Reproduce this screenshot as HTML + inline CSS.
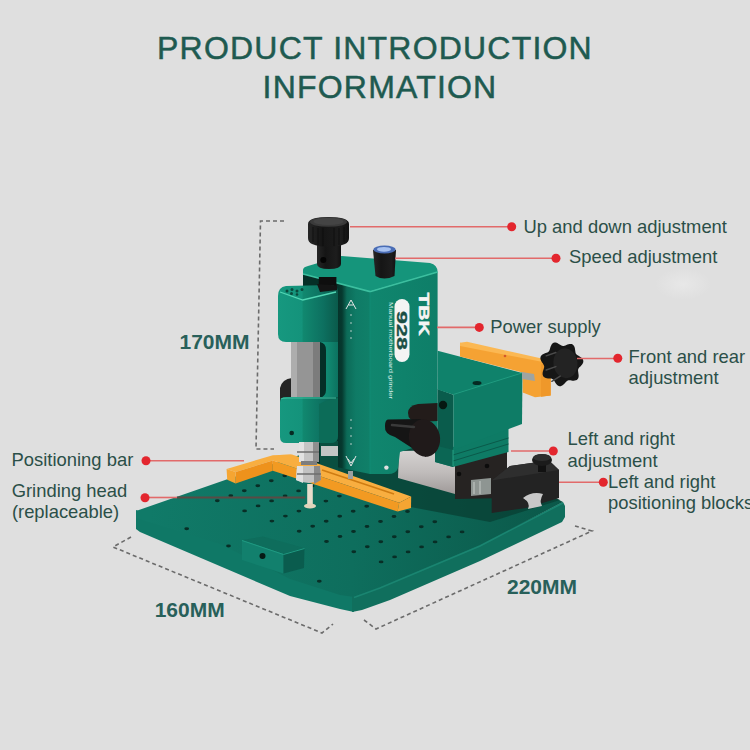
<!DOCTYPE html>
<html><head><meta charset="utf-8"><style>
html,body{margin:0;padding:0;background:#dfdfdf;width:750px;height:750px;overflow:hidden}
svg{display:block}
.t{font-family:"Liberation Sans",sans-serif}
</style></head><body>
<svg width="750" height="750" viewBox="0 0 750 750">
<defs>
  <linearGradient id="gBaseTop" gradientUnits="userSpaceOnUse" x1="150" y1="500" x2="560" y2="520">
    <stop offset="0" stop-color="#107a68"/><stop offset="0.5" stop-color="#0e6e5d"/><stop offset="1" stop-color="#0b5849"/>
  </linearGradient>
  <radialGradient id="glow"><stop offset="0" stop-color="#f2f2f2" stop-opacity="0.45"/><stop offset="1" stop-color="#f2f2f2" stop-opacity="0"/></radialGradient>
  <linearGradient id="gSp" gradientUnits="userSpaceOnUse" x1="278" y1="0" x2="338" y2="0"><stop offset="0" stop-color="#16987f"/><stop offset="0.4" stop-color="#14937b"/><stop offset="0.42" stop-color="#11886f"/><stop offset="0.75" stop-color="#0d7060"/><stop offset="1" stop-color="#0a5a4b"/></linearGradient>
  <linearGradient id="gSpR" gradientUnits="userSpaceOnUse" x1="320" y1="0" x2="338" y2="0"><stop offset="0" stop-color="#13947b"/><stop offset="0.5" stop-color="#10866f"/><stop offset="1" stop-color="#0c7260"/></linearGradient>
  <linearGradient id="gColL" gradientUnits="userSpaceOnUse" x1="335" y1="0" x2="370" y2="0"><stop offset="0" stop-color="#052f27"/><stop offset="0.2" stop-color="#06392f"/><stop offset="0.34" stop-color="#0c6b58"/><stop offset="0.6" stop-color="#0f7b66"/><stop offset="1" stop-color="#108069"/></linearGradient>
  <linearGradient id="gColR" gradientUnits="userSpaceOnUse" x1="370" y1="0" x2="438" y2="0"><stop offset="0" stop-color="#10866e"/><stop offset="1" stop-color="#0e7e68"/></linearGradient>
  <linearGradient id="gKnob" x1="0" y1="0" x2="1" y2="0"><stop offset="0" stop-color="#262626"/><stop offset="0.35" stop-color="#151515"/><stop offset="0.8" stop-color="#1d1d1d"/><stop offset="1" stop-color="#111"/></linearGradient>
  <linearGradient id="gSilver" gradientUnits="userSpaceOnUse" x1="0" y1="452" x2="0" y2="494"><stop offset="0" stop-color="#d4d1d0"/><stop offset="0.5" stop-color="#bfbbba"/><stop offset="1" stop-color="#9f9a99"/></linearGradient>
</defs>
<rect width="750" height="750" fill="#dfdfdf"/>
<ellipse cx="683" cy="284" rx="28" ry="16" fill="url(#glow)"/>

<!-- title -->
<g class="t" fill="#1e5a50" stroke="#1e5a50" stroke-width="0.5" font-size="32" letter-spacing="1.2">
  <text x="375" y="59" text-anchor="middle">PRODUCT INTRODUCTION</text>
  <text x="380" y="98" text-anchor="middle">INFORMATION</text>
</g>

<!-- base plate -->
<g id="base">
  <!-- front-left face -->
  <polygon points="136,510 220,540 290,574 340,592 354,594 354,612 340,609 290,596 140,532 136,529" fill="#0f7866"/>
  <!-- front-right face -->
  <polygon points="352,594 370,590 380,586 480,544 563,502 565,506 565,517 562,522 480,561 390,600 362,610 352,612" fill="#106f5d"/>
  <!-- top surface -->
  <polygon points="136,511 228,479 300,455 420,440 540,490 563,502 480,545 380,587 354,597 340,595 290,579 220,544 136,518" fill="url(#gBaseTop)"/>
  <path d="M354,597.5 L380,588 L480,546 L563,503" fill="none" stroke="#1a8571" stroke-width="1.5"/>
  <path d="M214.9,500.7a2.4,1.45 0 1,0 4.8,0a2.4,1.45 0 1,0 -4.8,0M242.2,510.9a2.4,1.45 0 1,0 4.8,0a2.4,1.45 0 1,0 -4.8,0M269.5,521.1a2.4,1.45 0 1,0 4.8,0a2.4,1.45 0 1,0 -4.8,0M296.8,531.3a2.4,1.45 0 1,0 4.8,0a2.4,1.45 0 1,0 -4.8,0M324.1,541.5a2.4,1.45 0 1,0 4.8,0a2.4,1.45 0 1,0 -4.8,0M351.4,551.7a2.4,1.45 0 1,0 4.8,0a2.4,1.45 0 1,0 -4.8,0M378.7,561.9a2.4,1.45 0 1,0 4.8,0a2.4,1.45 0 1,0 -4.8,0M228.4,495.7a2.4,1.45 0 1,0 4.8,0a2.4,1.45 0 1,0 -4.8,0M255.7,505.9a2.4,1.45 0 1,0 4.8,0a2.4,1.45 0 1,0 -4.8,0M283.0,516.1a2.4,1.45 0 1,0 4.8,0a2.4,1.45 0 1,0 -4.8,0M310.3,526.3a2.4,1.45 0 1,0 4.8,0a2.4,1.45 0 1,0 -4.8,0M337.6,536.5a2.4,1.45 0 1,0 4.8,0a2.4,1.45 0 1,0 -4.8,0M364.9,546.7a2.4,1.45 0 1,0 4.8,0a2.4,1.45 0 1,0 -4.8,0M392.2,556.9a2.4,1.45 0 1,0 4.8,0a2.4,1.45 0 1,0 -4.8,0M241.9,490.7a2.4,1.45 0 1,0 4.8,0a2.4,1.45 0 1,0 -4.8,0M269.2,500.9a2.4,1.45 0 1,0 4.8,0a2.4,1.45 0 1,0 -4.8,0M296.5,511.1a2.4,1.45 0 1,0 4.8,0a2.4,1.45 0 1,0 -4.8,0M323.8,521.3a2.4,1.45 0 1,0 4.8,0a2.4,1.45 0 1,0 -4.8,0M351.1,531.5a2.4,1.45 0 1,0 4.8,0a2.4,1.45 0 1,0 -4.8,0M378.4,541.7a2.4,1.45 0 1,0 4.8,0a2.4,1.45 0 1,0 -4.8,0M405.7,551.9a2.4,1.45 0 1,0 4.8,0a2.4,1.45 0 1,0 -4.8,0M255.4,485.7a2.4,1.45 0 1,0 4.8,0a2.4,1.45 0 1,0 -4.8,0M282.7,495.9a2.4,1.45 0 1,0 4.8,0a2.4,1.45 0 1,0 -4.8,0M310.0,506.1a2.4,1.45 0 1,0 4.8,0a2.4,1.45 0 1,0 -4.8,0M337.3,516.3a2.4,1.45 0 1,0 4.8,0a2.4,1.45 0 1,0 -4.8,0M364.6,526.5a2.4,1.45 0 1,0 4.8,0a2.4,1.45 0 1,0 -4.8,0M391.9,536.7a2.4,1.45 0 1,0 4.8,0a2.4,1.45 0 1,0 -4.8,0M419.2,546.9a2.4,1.45 0 1,0 4.8,0a2.4,1.45 0 1,0 -4.8,0M268.9,480.7a2.4,1.45 0 1,0 4.8,0a2.4,1.45 0 1,0 -4.8,0M296.2,490.9a2.4,1.45 0 1,0 4.8,0a2.4,1.45 0 1,0 -4.8,0M323.5,501.1a2.4,1.45 0 1,0 4.8,0a2.4,1.45 0 1,0 -4.8,0M350.8,511.3a2.4,1.45 0 1,0 4.8,0a2.4,1.45 0 1,0 -4.8,0M378.1,521.5a2.4,1.45 0 1,0 4.8,0a2.4,1.45 0 1,0 -4.8,0M405.4,531.7a2.4,1.45 0 1,0 4.8,0a2.4,1.45 0 1,0 -4.8,0M432.7,541.9a2.4,1.45 0 1,0 4.8,0a2.4,1.45 0 1,0 -4.8,0M282.4,475.7a2.4,1.45 0 1,0 4.8,0a2.4,1.45 0 1,0 -4.8,0M309.7,485.9a2.4,1.45 0 1,0 4.8,0a2.4,1.45 0 1,0 -4.8,0M337.0,496.1a2.4,1.45 0 1,0 4.8,0a2.4,1.45 0 1,0 -4.8,0M364.3,506.3a2.4,1.45 0 1,0 4.8,0a2.4,1.45 0 1,0 -4.8,0M391.6,516.5a2.4,1.45 0 1,0 4.8,0a2.4,1.45 0 1,0 -4.8,0M418.9,526.7a2.4,1.45 0 1,0 4.8,0a2.4,1.45 0 1,0 -4.8,0M446.2,536.9a2.4,1.45 0 1,0 4.8,0a2.4,1.45 0 1,0 -4.8,0M295.9,470.7a2.4,1.45 0 1,0 4.8,0a2.4,1.45 0 1,0 -4.8,0M323.2,480.9a2.4,1.45 0 1,0 4.8,0a2.4,1.45 0 1,0 -4.8,0M350.5,491.1a2.4,1.45 0 1,0 4.8,0a2.4,1.45 0 1,0 -4.8,0M377.8,501.3a2.4,1.45 0 1,0 4.8,0a2.4,1.45 0 1,0 -4.8,0M405.1,511.5a2.4,1.45 0 1,0 4.8,0a2.4,1.45 0 1,0 -4.8,0M432.4,521.7a2.4,1.45 0 1,0 4.8,0a2.4,1.45 0 1,0 -4.8,0M459.7,531.9a2.4,1.45 0 1,0 4.8,0a2.4,1.45 0 1,0 -4.8,0M184.3,528.7a2.4,1.45 0 1,0 4.8,0a2.4,1.45 0 1,0 -4.8,0M226.1,546.0a2.4,1.45 0 1,0 4.8,0a2.4,1.45 0 1,0 -4.8,0M316.9,581.3a2.4,1.45 0 1,0 4.8,0a2.4,1.45 0 1,0 -4.8,0" fill="#082e26"/>
</g>
<!-- ===== MACHINE ===== -->
<g id="machine">
  <!-- shadow on base under machine -->
  <polygon points="300,462 420,445 500,470 560,500 490,522 400,505 330,488" fill="#083f33" opacity="0.75"/>

  <!-- silver slide block -->
  <polygon points="399,451 455,450 455,494 398,478" fill="url(#gSilver)"/>
  <!-- dark block under vise -->
  <polygon points="455,453 507,452 507,498 455,499" fill="#262322"/>
  <circle cx="459" cy="474" r="2.3" fill="#0c0c0c"/>
  <circle cx="487" cy="466" r="2.3" fill="#0c0c0c"/>
  <!-- silver rail between -->
  <polygon points="471,480 491,478 491,494 471,496" fill="#8e9592"/><path d="M474,482 L474,494 M480,481 L480,494" stroke="#c6cbc8" stroke-width="1"/>

  <!-- ===== column ===== -->
  <polygon points="303,274 370,291.6 370,474 303,460" fill="url(#gColL)"/>
  <path d="M370,291.6 L437.6,272 L437.6,440 L400,452 L398,468 Q396,474 388,474 L370,474 Z" fill="url(#gColR)"/>
  <path d="M303,270 Q303,267 308,266 L341.6,256 L430,263 Q437.6,265 437.6,272 L370,291.6 L303,274 Z" fill="#15957b"/>
  <path d="M303,274 L370,291.6 L437.6,272" fill="none" stroke="#3cbf9f" stroke-width="1.5"/>
  <path d="M370,292 L370,474" stroke="#13907a" stroke-width="1.2" opacity="0.5"/>
  <!-- dark recess behind handle -->
  <path d="M437.6,403 L418,404 Q408,406 408,413 Q408,421 418,422 L437.6,421 Z" fill="#231c1a"/>
  <!-- under spindle head: silver bar & shadow -->
  <polygon points="320,441 338,441 338,472 320,468" fill="#0a4f40"/>
  <rect x="321" y="446" width="17" height="10" fill="#c3c6c5"/>

  <!-- TBK text -->
  <text x="418.5" y="292.5" class="t" transform="rotate(90 418.5 292.5)" font-size="15.5" font-weight="bold" fill="#f4f4f4" stroke="#f4f4f4" stroke-width="0.5" textLength="43" lengthAdjust="spacingAndGlyphs">TBK</text>
  <rect x="394.5" y="299" width="15" height="63" rx="7.5" fill="#f4f4f4"/>
  <text x="396.5" y="311" class="t" transform="rotate(90 396.5 311)" font-size="15" font-weight="bold" fill="#1b4f45" stroke="#1b4f45" stroke-width="0.3" textLength="39" lengthAdjust="spacingAndGlyphs">928</text>
  <text x="388.5" y="302" class="t" transform="rotate(90 388.5 302)" font-size="6" fill="#d8eee8" textLength="97" lengthAdjust="spacingAndGlyphs">Manual motherboard grinder</text>
  <!-- logo -->
  <path d="M346,309 L351,300 L356,309 M348.5,305 L353.5,305" stroke="#e6e6e6" stroke-width="1" fill="none"/>
  <g fill="#c9d9d4"><circle cx="351" cy="315" r="0.8"/><circle cx="351" cy="323" r="0.8"/><circle cx="351" cy="331" r="0.8"/><circle cx="351" cy="338" r="0.8"/></g>

  <g fill="#c9d9d4"><circle cx="351" cy="420" r="0.8"/><circle cx="351" cy="428" r="0.8"/><circle cx="351" cy="436" r="0.8"/><circle cx="351" cy="444" r="0.8"/></g>
  <path d="M346,456 L351,466 L356,456 M348,459 L351,463 L354,459" stroke="#e6e6e6" stroke-width="1" fill="none"/>
  <circle cx="386.4" cy="467.6" r="2.2" fill="#e0e0e0"/>

  <!-- ===== top knob ===== -->
  <path d="M317,240 L341,240 L341,264 Q341,269 329,269 Q317,269 317,264 Z" fill="url(#gKnob)"/>
  <rect x="318.8" y="277" width="17.6" height="24" fill="#0e0e0e"/>
  <circle cx="323.3" cy="260" r="3" fill="#040404"/>
  <path d="M308,224 Q308,217 328.5,217 Q349,217 349,224 L349,238 Q349,242 345,244 Q338,247 328.5,247 Q319,247 312,244 Q308,242 308,238 Z" fill="url(#gKnob)"/>
  <ellipse cx="328.5" cy="222" rx="18.5" ry="4.8" fill="#3a3a3a"/>
  <ellipse cx="328.5" cy="221.5" rx="15" ry="3.5" fill="#444"/>
  <path d="M313,227 L313,242 M318,228 L318,245 M323,228 L323,246 M334,228 L334,246 M339,228 L339,245 M344,227 L344,242" stroke="#0c0c0c" stroke-width="0.8"/>

  <!-- speed knob -->
  <path d="M373,250 L396,250 L394.5,276 Q384,281 375.5,276 Z" fill="url(#gKnob)"/>
  <ellipse cx="384.5" cy="249.5" rx="11.2" ry="4" fill="#4a6db5"/>
  <ellipse cx="384" cy="249.3" rx="7" ry="2.4" fill="#a8c2f0"/>

  <!-- ===== spindle head ===== -->
  <!-- black motor behind -->
  <path d="M280,402 L280,388 Q282,379 292,378 L292,402 Z" fill="#242424"/>
  <!-- grey cylinder -->
  <rect x="291" y="338" width="29" height="64" fill="#959595"/>
  <rect x="291" y="338" width="6" height="64" fill="#adadad"/>
  <rect x="313" y="338" width="7" height="64" fill="#7c7c7c"/>
  <!-- C frame right part -->
  <path d="M320,338 L338,338 L338,405 L320,405 L320,398 Q326,396 326,390 L326,350 Q326,343 320,342 Z" fill="url(#gSpR)"/>
  <!-- upper block -->
  <path d="M278,296 Q278,287 286,286 L330,285 Q338,285 338,292 L338,342 L286,342 Q278,342 278,334 Z" fill="url(#gSp)"/>
  <path d="M280,292 L302.8,300 L336,292" fill="none" stroke="#52d6b4" stroke-width="1.3"/>
  <polygon points="317,284 337,285.5 337,290 320,292" fill="#141414"/>
  <g fill="#0a4a3c"><circle cx="287" cy="291" r="1.5"/><circle cx="292" cy="289.5" r="1.5"/><circle cx="291.5" cy="293.5" r="1.5"/><circle cx="297" cy="291" r="1.5"/><circle cx="302" cy="289.5" r="1.5"/><circle cx="297" cy="294.5" r="1.3"/></g>
  <!-- lower block -->
  <path d="M280,402 Q280,397 286,397 L338,397 L338,436 Q338,443 331,443 L286,443 Q280,443 280,437 Z" fill="url(#gSp)"/>
  <path d="M319,404 Q326,400 338,398 L338,436 Q338,443 331,443 L319,443 Z" fill="#0c6c58"/>
  <path d="M281,399 Q282,398 288,398 L336,398" fill="none" stroke="#40c09f" stroke-width="1.2"/>
  <circle cx="291.7" cy="433" r="2.3" fill="#062a22"/>

  <!-- ===== right vise ===== -->
  <!-- slide plates under vise -->
  <polygon points="435,444 453,447 508.5,428 508.5,452 453,467 435,462" fill="#0e7b65"/>
  <path d="M453,455 L508.5,438 M453,461 L508.5,444" stroke="#0a5a4a" stroke-width="1"/>
  <polygon points="435,440 453,447 453,467 435,462" fill="#0b6654"/>
  <path d="M453,448 L453,466" stroke="#2fae8f" stroke-width="0.8"/>
  <!-- vise left face -->
  <polygon points="437.6,389 453.3,394.7 453.3,450 437.6,446" fill="#0a5c4c"/>
  <circle cx="443" cy="405" r="4.2" fill="#061812"/>
  <!-- vise top face -->
  <polygon points="437.6,350.7 522.5,373 453.3,394.7 437.6,389.5" fill="#0f826b"/>
  <ellipse cx="477" cy="383" rx="4.5" ry="2" fill="#052a22"/>
  <!-- vise front face -->
  <polygon points="453.3,394.2 522.5,372.5 522,424 453.3,450" fill="#0e7c66"/>
  <path d="M453.3,394.5 L522.5,372.8" stroke="#1f9c80" stroke-width="1"/>
  <!-- orange bar -->
  <polygon points="460,342.7 550.7,362 550.7,395.5 535,397.3 522.7,392.5 522.7,372.5 460,356.5" fill="#f5a233"/>
  <polygon points="460,342.7 467,341.8 550.7,360.5 550.7,363.5 460,346" fill="#fbb853"/>
  <polygon points="541,364.5 550.7,362 550.7,395.5 541,396.8" fill="#ef982a"/>
  <circle cx="505" cy="356" r="1.3" fill="#d4582a"/>
  <!-- silver rod -->
  <polygon points="522,372 534,374 535,381 522,379" fill="#9ea4a2"/>
  <!-- star knob -->
  <g transform="translate(561.5,363.8) rotate(-8)">
    <path d="M22.0,0.0 L21.9,1.0 L21.5,2.0 L20.9,2.9 L20.1,3.7 L19.3,4.5 L18.4,5.2 L17.5,5.8 L16.8,6.4 L16.2,7.1 L15.8,7.7 L15.5,8.5 L15.4,9.4 L15.4,10.4 L15.4,11.4 L15.4,12.6 L15.4,13.7 L15.2,14.9 L14.9,15.9 L14.4,16.8 L13.7,17.5 L12.9,18.1 L11.9,18.4 L10.8,18.5 L9.7,18.4 L8.6,18.2 L7.5,17.9 L6.5,17.6 L5.5,17.4 L4.7,17.3 L3.9,17.4 L3.1,17.7 L2.4,18.1 L1.7,18.7 L0.9,19.4 L0.0,20.1 L-0.9,20.8 L-1.9,21.4 L-2.9,21.8 L-3.9,22.0 L-4.9,21.9 L-5.8,21.5 L-6.7,20.9 L-7.4,20.1 L-8.0,19.2 L-8.6,18.2 L-9.0,17.1 L-9.5,16.1 L-9.9,15.3 L-10.4,14.5 L-10.9,14.0 L-11.6,13.5 L-12.4,13.2 L-13.3,13.0 L-14.3,12.8 L-15.4,12.6 L-16.5,12.3 L-17.6,11.8 L-18.5,11.3 L-19.3,10.6 L-19.8,9.7 L-20.1,8.8 L-20.2,7.7 L-20.0,6.6 L-19.7,5.5 L-19.3,4.5 L-18.7,3.5 L-18.3,2.5 L-17.9,1.6 L-17.6,0.8 L-17.5,0.0 L-17.6,-0.8 L-17.9,-1.6 L-18.3,-2.5 L-18.7,-3.5 L-19.3,-4.5 L-19.7,-5.5 L-20.0,-6.6 L-20.2,-7.7 L-20.1,-8.8 L-19.8,-9.7 L-19.3,-10.6 L-18.5,-11.3 L-17.6,-11.8 L-16.5,-12.3 L-15.4,-12.6 L-14.3,-12.8 L-13.3,-13.0 L-12.4,-13.2 L-11.6,-13.5 L-10.9,-14.0 L-10.4,-14.5 L-9.9,-15.3 L-9.5,-16.1 L-9.0,-17.1 L-8.6,-18.2 L-8.0,-19.2 L-7.4,-20.1 L-6.7,-20.9 L-5.8,-21.5 L-4.9,-21.9 L-3.9,-22.0 L-2.9,-21.8 L-1.9,-21.4 L-0.9,-20.8 L-0.0,-20.1 L0.9,-19.4 L1.7,-18.7 L2.4,-18.1 L3.1,-17.7 L3.9,-17.4 L4.7,-17.3 L5.5,-17.4 L6.5,-17.6 L7.5,-17.9 L8.6,-18.2 L9.7,-18.4 L10.8,-18.5 L11.9,-18.4 L12.9,-18.1 L13.7,-17.5 L14.4,-16.8 L14.9,-15.9 L15.2,-14.9 L15.4,-13.7 L15.4,-12.6 L15.4,-11.4 L15.4,-10.4 L15.4,-9.4 L15.5,-8.5 L15.8,-7.7 L16.2,-7.1 L16.8,-6.4 L17.5,-5.8 L18.4,-5.2 L19.3,-4.5 L20.1,-3.7 L20.9,-2.9 L21.5,-2.0 L21.9,-1.0 Z" fill="#161616"/>
    <ellipse cx="4" cy="0" rx="12" ry="15" fill="#232323"/>
    <path d="M-14,-10 L-4,-12 M-16,4 L-6,2 M-12,16 L-3,12" stroke="#4a4a4a" stroke-width="1.5" stroke-linecap="round"/>
  </g>

  <!-- handle -->
  <path d="M388,419.5 L421,419 L426,457 L395,437 Q384,434 385,426 Q385,420 388,419.5 Z" fill="#151515"/>
  <ellipse cx="424.5" cy="438" rx="15.5" ry="18.8" transform="rotate(-12 424.5 438)" fill="#201a1a"/>
  <path d="M392,425 L414,427" stroke="#3a3a3a" stroke-width="2.5" stroke-linecap="round"/>
  <!-- black positioning block -->
  <polygon points="491.7,480.4 510,466 549,460.5 559,470 559,498 526,508 491.7,513" fill="#232323"/>
  <polygon points="491.7,480.4 510,466 549,460.5 559,470" fill="#2e2e2e"/>
  <path d="M523,498 Q532,491 543,494 Q539,501 542,506 L528,509 Q531,503 523,498 Z" fill="#c8c8c8"/>
  <!-- knob on block -->
  <rect x="538" y="462" width="8" height="10" fill="#111"/>
  <ellipse cx="542" cy="460" rx="10" ry="6" fill="#1b1b1b"/>
  <ellipse cx="542" cy="457.5" rx="9" ry="3.5" fill="#2e2e2e"/>

  <!-- ===== orange L bar ===== -->
  <!-- long arm -->
  <polygon points="272.8,460.6 399.2,502.8 397.6,511.6 272.8,470.8" fill="#f29a22"/>
  <polygon points="280,455 292,454.6 411.2,496.4 399.2,502.8 272.8,460.6" fill="#f8ae40"/>
  <polygon points="399.2,502.8 411.2,496.4 411,508 397.6,511.6" fill="#f5a532"/>
  <path d="M322,470 L394,494" stroke="#cf7c12" stroke-width="1.6"/>
  <!-- left arm -->
  <polygon points="226.6,469 272.8,455.2 292,454.6 272.8,460.6 235.6,472" fill="#f8ae40"/>
  <polygon points="235.6,472 272.8,460.6 272.8,470.8 235.6,483.4" fill="#ee921c"/>
  <polygon points="226.6,469 235.6,472 235.6,483.4 227.2,479.8" fill="#f5a532"/>
  <!-- screw on slot -->
  <rect x="348" y="471" width="5" height="8" fill="#9aa0a0"/>

  <!-- chuck -->
  <rect x="299" y="442" width="20" height="20" fill="#c4c4c4"/>
  <rect x="299" y="442" width="5" height="20" fill="#e2e2e2"/>
  <rect x="313" y="442" width="6" height="20" fill="#8f8f8f"/>
  <rect x="301" y="461" width="16" height="4" fill="#7d7d7d"/>
  <path d="M297,466 L320,466 L321,480 Q309,486 296,480 Z" fill="#c2c2c2"/>
  <path d="M297,466 L303,466 L303,483 L296,480 Z" fill="#e0e0e0"/>
  <path d="M314,466 L320,466 L321,480 L314,484 Z" fill="#8a8a8a"/>
  <path d="M297,452 L319,452 M297,474 L321,474" stroke="#6e6e6e" stroke-width="1.3"/>
  <!-- tool -->
  <rect x="307.2" y="484" width="5.6" height="22" fill="#e8dccb"/>
  <ellipse cx="310" cy="506" rx="6" ry="2.6" fill="#e3d3bc"/>

  <!-- small box on base -->
  <polygon points="242,540 263,536.5 304.5,548 283.5,554" fill="#0e6d5c"/>
  <polygon points="242,540 283.5,554 283.5,573.5 242,560" fill="#12806d"/>
  <polygon points="283.5,554 304.5,548 304,568 283.5,573.5" fill="#0a5c4e"/>
  <path d="M242,540.5 L283.5,554.5 L304.5,548.5" fill="none" stroke="#1f9a82" stroke-width="1"/>
  <circle cx="262.5" cy="556" r="3" fill="#061a14"/>
</g>

<!-- dimension lines -->
<g fill="none" stroke="#6b6b6b" stroke-width="1.6" stroke-dasharray="4,3">
  <polyline points="284,221 260.5,221 256,449 274,449"/>
  <polyline points="131,537 113,547 322,633 333,624"/>
  <polyline points="364,620 376,629 592,531 575,526"/>
</g>
<g class="t" fill="#28605a" font-size="21" font-weight="bold">
  <text x="179.5" y="349">170MM</text>
  <text x="154.7" y="616.7">160MM</text>
  <text x="507" y="594">220MM</text>
</g>

<!-- labels -->
<g class="t" fill="#2b4f48" font-size="18.4">
  <text x="523.5" y="233.2">Up and down adjustment</text>
  <text x="569" y="263.3">Speed adjustment</text>
  <text x="490.3" y="333.4">Power supply</text>
  <text x="628.6" y="362.8">Front and rear</text>
  <text x="628.6" y="384">adjustment</text>
  <text x="567.6" y="445.4">Left and right</text>
  <text x="567.6" y="466.7">adjustment</text>
  <text x="608" y="487.7">Left and right</text>
  <text x="608" y="509.3">positioning blocks</text>
  <text x="11.6" y="466.3">Positioning bar</text>
  <text x="11.7" y="497">Grinding head</text>
  <text x="11.9" y="518">(replaceable)</text>
</g>

<!-- red callouts -->
<g stroke="#e26a6a" stroke-width="1.6">
  <line x1="350" y1="226.7" x2="511.7" y2="226.7"/>
  <line x1="395" y1="258.3" x2="556" y2="258.3"/>
  <line x1="437" y1="327.4" x2="479.3" y2="327.4"/>
  <line x1="577" y1="358.5" x2="617.8" y2="358.5"/>
  <line x1="511" y1="451" x2="553.3" y2="451"/>
  <line x1="559" y1="482.3" x2="603.3" y2="482.3"/>
  <line x1="146" y1="460.7" x2="244" y2="460.7"/>
  <line x1="146" y1="497.5" x2="177" y2="497.5"/>
</g>
<line x1="177" y1="497.5" x2="305" y2="497.5" stroke="#5b4a44" stroke-width="2.2"/>
<g fill="#e3262e">
  <circle cx="511.7" cy="226.7" r="4.5"/>
  <circle cx="556" cy="258.3" r="4.5"/>
  <circle cx="479.3" cy="327.4" r="4.5"/>
  <circle cx="617.8" cy="358.3" r="4.5"/>
  <circle cx="553.3" cy="451" r="4.5"/>
  <circle cx="603.3" cy="482.3" r="4.5"/>
  <circle cx="146" cy="460.7" r="4.5"/>
  <circle cx="145" cy="497.7" r="4.5"/>
</g>
</svg>
</body></html>
